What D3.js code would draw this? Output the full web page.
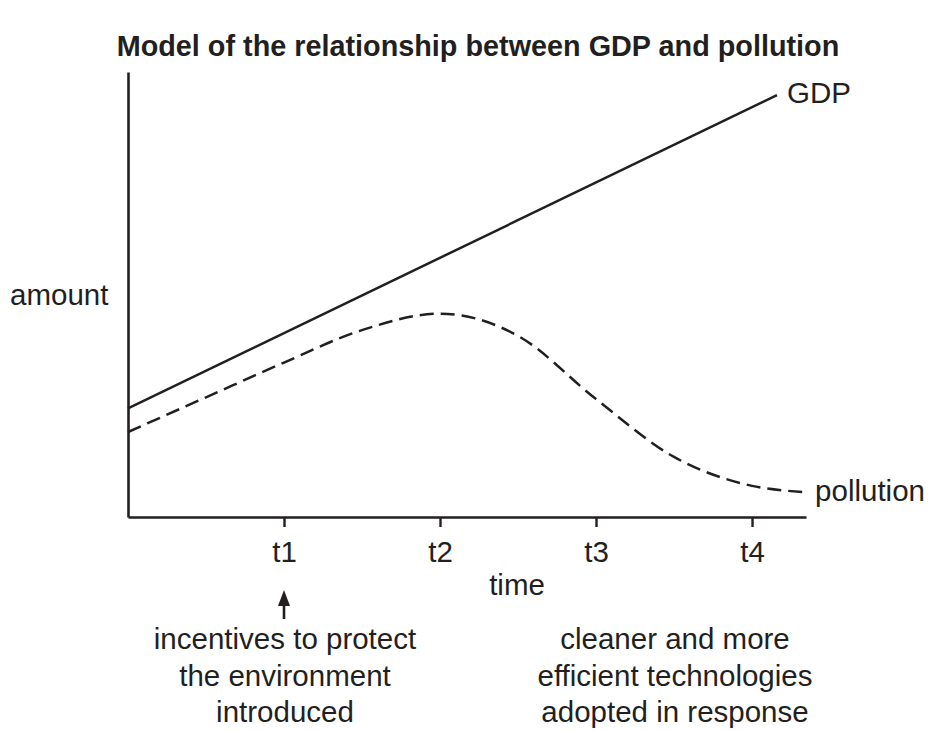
<!DOCTYPE html>
<html>
<head>
<meta charset="utf-8">
<script src="https://cdn.jsdelivr.net/npm/d3@7"></script>
<style>
  html, body { margin: 0; padding: 0; background: #fff; }
  svg { display: block; }
  text { font-family: "Liberation Sans", Arial, Helvetica, sans-serif; fill: #231f20; }
</style>
</head>
<body>
<svg id="chart" width="929" height="731"></svg>
<script>
// ---- data ----
const title = "Model of the relationship between GDP and pollution";
const tickValues = [1, 2, 3, 4];
const tickLabels = ["t1", "t2", "t3", "t4"];
const gdpTime = [0, 4.16];
const gdpValues = [24.4, 94.8];
const pollutionTime = [0, 0.5, 1, 1.5, 2, 2.5, 3, 3.5, 4, 4.34];
const pollutionValues = [19.1, 26.9, 34.7, 42.0, 45.7, 40.7, 26.5, 13.5, 7.0, 5.6];
const leftNote = ["incentives to protect", "the environment", "introduced"];
const rightNote = ["cleaner and more", "efficient technologies", "adopted in response"];
const xLabel = "time";
const yLabel = "amount";

// ---- layout ----
const ink = "#231f20";
const fs = "29.5px";
const svg = d3.select("#chart");
const x = d3.scaleLinear().domain([0, 4.346]).range([128, 806]);
const y = d3.scaleLinear().domain([0, 100]).range([517, 72]);

// title
svg.append("text")
  .attr("x", 478).attr("y", 56)
  .attr("text-anchor", "middle")
  .style("font-weight", "bold")
  .style("font-size", "28.8px")
  .text(title);

// axes
const xAxis = d3.axisBottom(x)
  .tickValues(tickValues)
  .tickFormat((d, i) => tickLabels[i])
  .tickSize(10).tickSizeOuter(0);
const gx = svg.append("g").attr("transform", `translate(0,${y(0)})`).call(xAxis);
gx.select(".domain").attr("stroke", ink).attr("stroke-width", 2.6);
gx.selectAll(".tick line").attr("stroke", ink).attr("stroke-width", 2.4);
gx.selectAll(".tick text")
  .attr("y", 45).attr("dy", 0)
  .style("font-size", fs)
  .style("font-family", "\"Liberation Sans\", Arial, sans-serif")
  .attr("fill", ink);

const yAxis = d3.axisLeft(y).tickValues([]).tickSizeOuter(0);
const gy = svg.append("g").attr("transform", `translate(${x(0)},0)`).call(yAxis);
gy.select(".domain").attr("stroke", ink).attr("stroke-width", 2.6);

// GDP line
const gdpData = gdpTime.map((t, i) => ({ t, v: gdpValues[i] }));
svg.append("path")
  .datum(gdpData)
  .attr("fill", "none")
  .attr("stroke", ink)
  .attr("stroke-width", 2.5)
  .attr("d", d3.line().x(d => x(d.t)).y(d => y(d.v)));

// pollution line
const polData = pollutionTime.map((t, i) => ({ t, v: pollutionValues[i] }));
svg.append("path")
  .datum(polData)
  .attr("fill", "none")
  .attr("stroke", ink)
  .attr("stroke-width", 2.5)
  .attr("stroke-dasharray", "14,7")
  .attr("d", d3.line().curve(d3.curveMonotoneX).x(d => x(d.t)).y(d => y(d.v)));

// series labels
const gEnd = gdpData[gdpData.length - 1];
svg.append("text")
  .attr("x", x(gEnd.t) + 10).attr("y", y(gEnd.v) + 8)
  .style("font-size", fs)
  .text("GDP");
const pEnd = polData[polData.length - 1];
svg.append("text")
  .attr("x", x(pEnd.t) + 10).attr("y", y(pEnd.v) + 9)
  .style("font-size", fs)
  .text("pollution");

// axis labels
svg.append("text")
  .attr("x", 10).attr("y", 305)
  .style("font-size", fs)
  .text(yLabel);
svg.append("text")
  .attr("x", 517).attr("y", 595)
  .attr("text-anchor", "middle")
  .style("font-size", fs)
  .text(xLabel);

// arrow at t1
const ax = x(tickValues[0]);
svg.append("line")
  .attr("x1", ax).attr("x2", ax)
  .attr("y1", 619).attr("y2", 600)
  .attr("stroke", ink).attr("stroke-width", 2.6);
svg.append("path")
  .attr("d", `M${ax},590 L${ax - 6},606 L${ax + 6},606 Z`)
  .attr("fill", ink);

// notes
const noteBase = [649, 686, 722];
svg.append("g").selectAll("text").data(leftNote).join("text")
  .attr("x", ax + 1).attr("y", (d, i) => noteBase[i])
  .attr("text-anchor", "middle")
  .style("font-size", fs)
  .text(d => d);
svg.append("g").selectAll("text").data(rightNote).join("text")
  .attr("x", 675).attr("y", (d, i) => noteBase[i])
  .attr("text-anchor", "middle")
  .style("font-size", fs)
  .text(d => d);
</script>
</body>
</html>
